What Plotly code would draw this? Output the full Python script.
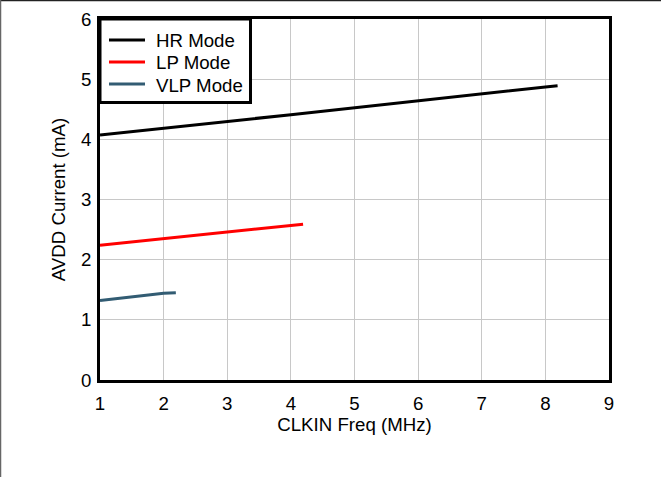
import plotly.graph_objects as go

hr_x = [1, 2, 4, 8, 8.192]
hr_y = [4.07, 4.18, 4.41, 4.87, 4.89]
lp_x = [1, 2, 4, 4.192]
lp_y = [2.24, 2.35, 2.58, 2.59]
vlp_x = [1, 2, 2.192]
vlp_y = [1.32, 1.44, 1.45]

series_names = ["HR Mode", "LP Mode", "VLP Mode"]
series_colors = ["#000000", "#ff0000", "#325c73"]

x_ticks = [1, 2, 3, 4, 5, 6, 7, 8, 9]
y_ticks = [0, 1, 2, 3, 4, 5, 6]

font = "Liberation Sans, Arial, sans-serif"
FS = 18.67

# plot area geometry (pixels)
L, R, T, B = 100, 52, 19, 97
W, H = 661, 477
PW, PH = W - L - R, H - T - B


def px(xp):
    return (xp - L) / PW


def py(yp):
    return 1 - (yp - T) / PH


fig = go.Figure()
for (xs, ys), name, col in zip([(hr_x, hr_y), (lp_x, lp_y), (vlp_x, vlp_y)],
                               series_names, series_colors):
    fig.add_trace(go.Scatter(x=xs, y=ys, mode="lines", name=name,
                             line=dict(color=col, width=3), showlegend=False))

fig.update_layout(
    width=W, height=H,
    margin=dict(l=L, r=R, t=T, b=B, autoexpand=False),
    paper_bgcolor="white", plot_bgcolor="white",
    font=dict(family=font, size=FS, color="black"),
    showlegend=False,
    xaxis=dict(range=[1, 9], tickvals=x_ticks, showgrid=True, gridcolor="#c8c8c8",
               gridwidth=1, zeroline=False, showline=True, linecolor="black",
               linewidth=3, mirror=True, ticks="outside", ticklen=5,
               tickcolor="rgba(0,0,0,0)",
               title=dict(text="CLKIN Freq (MHz)", standoff=0, font=dict(size=FS)),
               tickfont=dict(size=FS)),
    yaxis=dict(range=[0, 6], tickvals=y_ticks, showgrid=True, gridcolor="#c8c8c8",
               gridwidth=1, zeroline=False, showline=True, linecolor="black",
               linewidth=3, mirror=True, ticks="outside", ticklen=2,
               tickcolor="rgba(0,0,0,0)",
               title=dict(text="AVDD Current (mA)", standoff=11, font=dict(size=FS)),
               tickfont=dict(size=FS)),
)

# legend box (drawn manually to match the compact row spacing)
fig.add_shape(type="rect", xref="paper", yref="paper", layer="above",
              x0=px(100), x1=px(250.5), y0=py(102.5), y1=py(19),
              line=dict(color="black", width=3), fillcolor="white")
row_y = [40, 62, 84]
for name, col, yy in zip(series_names, series_colors, row_y):
    fig.add_shape(type="line", xref="paper", yref="paper", layer="above",
                  x0=px(109), x1=px(145), y0=py(yy), y1=py(yy),
                  line=dict(color=col, width=3))
    fig.add_annotation(xref="paper", yref="paper", x=px(154), y=py(yy + 1),
                       xanchor="left", yanchor="middle", showarrow=False,
                       text=name, font=dict(size=FS, color="black"))

# outer image border lines (top and left)
fig.add_shape(type="line", xref="paper", yref="paper",
              x0=px(0), x1=px(W), y0=py(0.5), y1=py(0.5),
              line=dict(color="#222222", width=1.5))
fig.add_shape(type="line", xref="paper", yref="paper",
              x0=px(0.5), x1=px(0.5), y0=py(H), y1=py(0),
              line=dict(color="#666666", width=1.5))

fig.write_html("out.html", config={"displayModeBar": False},
               post_script="document.body.style.margin='0';")
